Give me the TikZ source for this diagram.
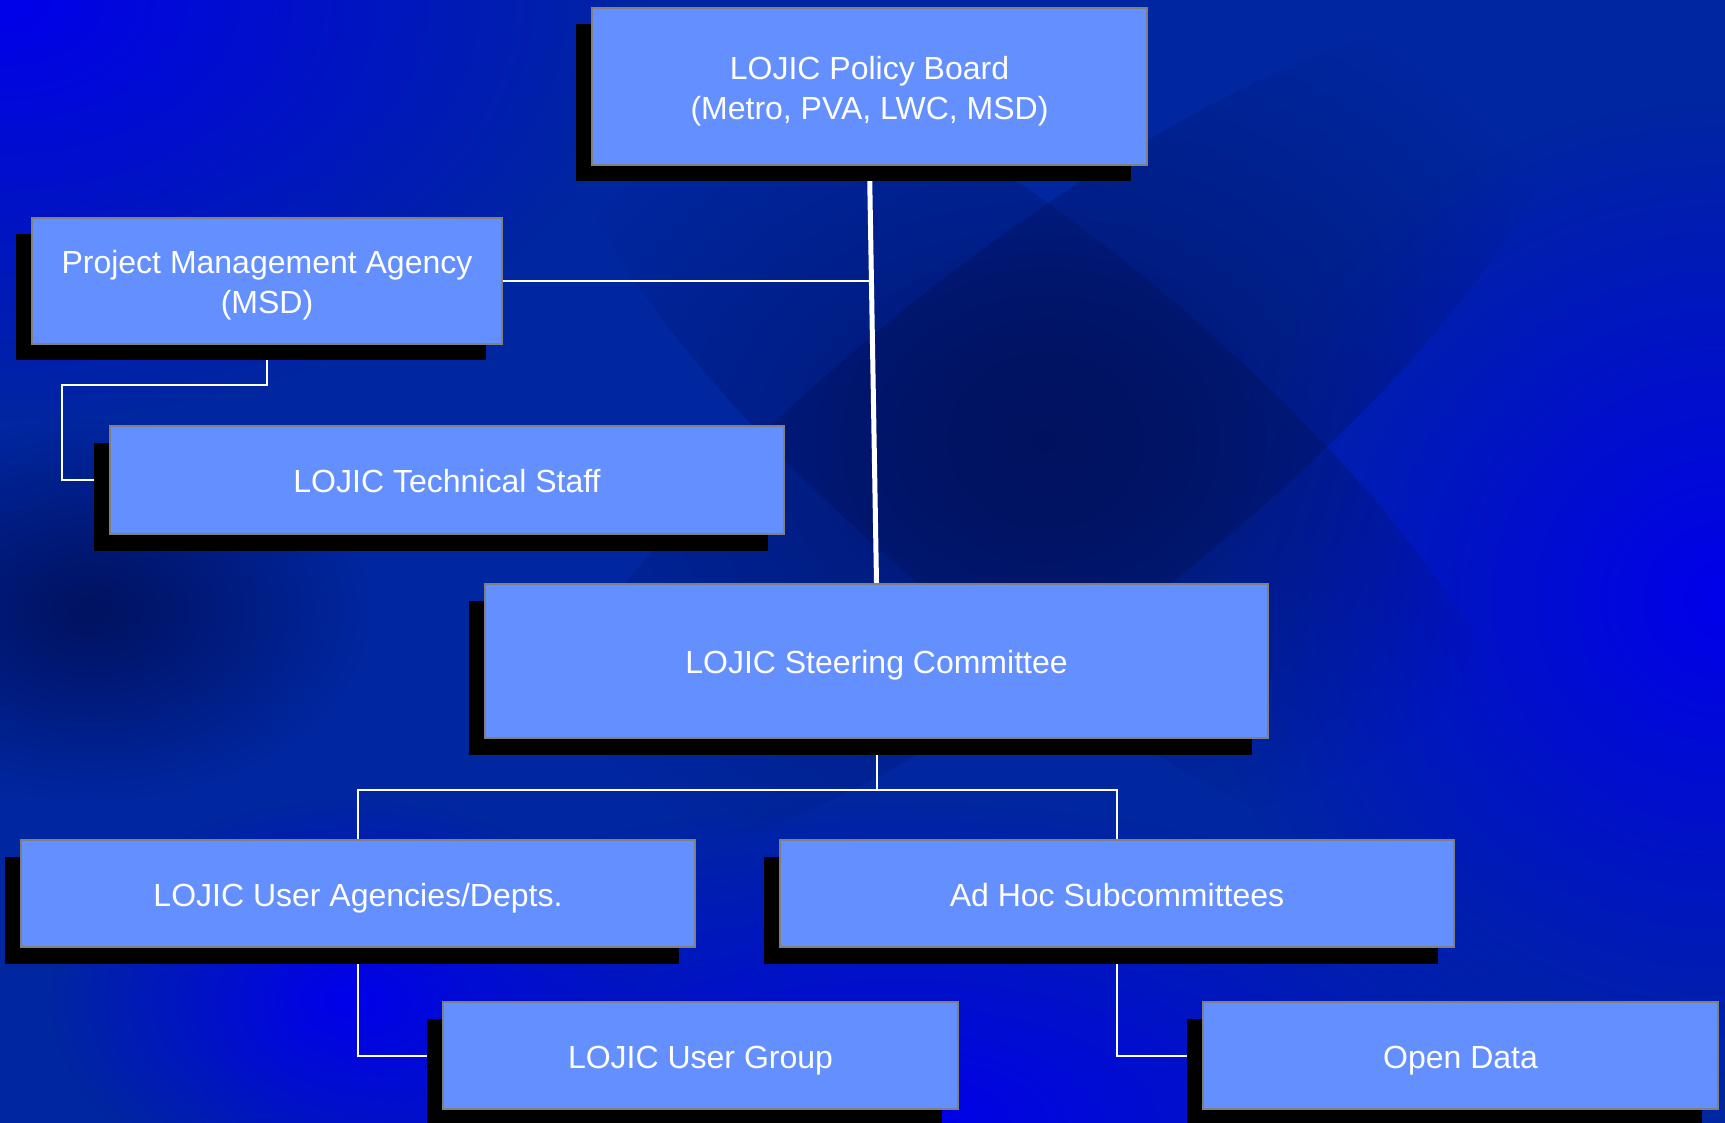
\documentclass[tikz,border=0pt]{standalone}
\usepackage{fontspec}
\setmainfont{Liberation Sans}
\usetikzlibrary{shadows,fadings}
\definecolor{bgbase}{RGB}{0,38,160}
\definecolor{bgbright}{RGB}{0,0,235}
\definecolor{bgdark}{RGB}{0,18,95}
\definecolor{boxblue}{RGB}{100,143,255}
\definecolor{boxedge}{RGB}{128,128,128}
\tikzfading[name=softglow, inner color=transparent!0, outer color=transparent!100]
\pgfdeclarelayer{bg}
\pgfdeclarelayer{conn}
\pgfsetlayers{bg,conn,main}
\tikzset{
  orgbox/.style={draw=boxedge, line width=2pt, fill=boxblue, inner sep=0pt,
    general shadow={fill=black, draw=none, shadow xshift=-16.5pt, shadow yshift=-16.5pt}},
  boxtext/.style={text=white, font=\fontsize{32}{39.6}\selectfont, align=center,
    inner sep=0pt, yshift=-4.5pt},
  onetext/.style={boxtext, text height=23pt, text depth=6.8pt},
  thinlink/.style={draw=white, line width=2pt},
  thicklink/.style={draw=white, line width=5pt}
}
\begin{document}
\begin{tikzpicture}[x=1pt,y=-1pt]
\useasboundingbox (0,0) rectangle (1725,1123);
\begin{pgfonlayer}{bg}
  \fill[bgbase] (0,0) rectangle (1725,1123);
  \begin{scope}
    \clip (0,0) rectangle (1725,1123);
    \fill[bgbright, path fading=softglow] (0,0) ellipse (650 and 420);
    \fill[bgbright, path fading=softglow] (1725,600) ellipse (520 and 500);
    \fill[bgbright, path fading=softglow] (900,1123) ellipse (700 and 320);
    \fill[bgbright, path fading=softglow] (350,1000) ellipse (300 and 200);
    \begin{scope}[shift={(1045,440)}, rotate=38]
      \fill[bgdark, opacity=0.75, path fading=softglow] (0,0) ellipse (650 and 190);
    \end{scope}
    \begin{scope}[shift={(1045,440)}, rotate=-40]
      \fill[bgdark, opacity=0.75, path fading=softglow] (0,0) ellipse (620 and 190);
    \end{scope}
    \fill[bgdark, opacity=0.8, path fading=softglow] (1045,440) ellipse (220 and 200);
    \fill[bgdark, path fading=softglow] (90,610) ellipse (280 and 190);
  \end{scope}
\end{pgfonlayer}

\node[orgbox, minimum width=555, minimum height=157,
  label={[boxtext]center:{LOJIC Policy Board\\(Metro, PVA, LWC, MSD)}}] (pb) at (869.5,86.5) {};
\node[orgbox, minimum width=470, minimum height=126,
  label={[boxtext]center:{Project Management Agency\\(MSD)}}] (pma) at (267,281) {};
\node[orgbox, minimum width=674, minimum height=108,
  label={[onetext]center:{LOJIC Technical Staff}}] (tech) at (447,480) {};
\node[orgbox, minimum width=783, minimum height=154,
  label={[onetext]center:{LOJIC Steering Committee}}] (st) at (876.5,661) {};
\node[orgbox, minimum width=674, minimum height=107,
  label={[onetext]center:{LOJIC User Agencies/Depts.}}] (ua) at (358,893.5) {};
\node[orgbox, minimum width=674, minimum height=107,
  label={[onetext]center:{Ad Hoc Subcommittees}}] (ah) at (1117,893.5) {};
\node[orgbox, minimum width=515, minimum height=107,
  label={[onetext]center:{LOJIC User Group}}] (ug) at (700.5,1055.5) {};
\node[orgbox, minimum width=515, minimum height=107,
  label={[onetext]center:{Open Data}}] (od) at (1460.5,1055.5) {};

\coordinate (pmaelbow) at (267,385);
\coordinate (pmaleft) at (62,385);
\coordinate (bus) at (876.5,790);

\begin{pgfonlayer}{conn}
  \draw[thicklink] (pb.south) -- (st.north);
  \draw[thinlink] (pma.east) -- (pma.east -| pb.south);
  \draw[thinlink] (pma.south) -- (pmaelbow) -- (pmaleft) |- (tech.west);
  \draw[thinlink] (st.south) -- (bus);
  \draw[thinlink] (ua.north) -- (ua.north |- bus) -- (ah.north |- bus) -- (ah.north);
  \draw[thinlink] (ua.south) |- (ug.west);
  \draw[thinlink] (ah.south) |- (od.west);
\end{pgfonlayer}
\end{tikzpicture}
\end{document}
